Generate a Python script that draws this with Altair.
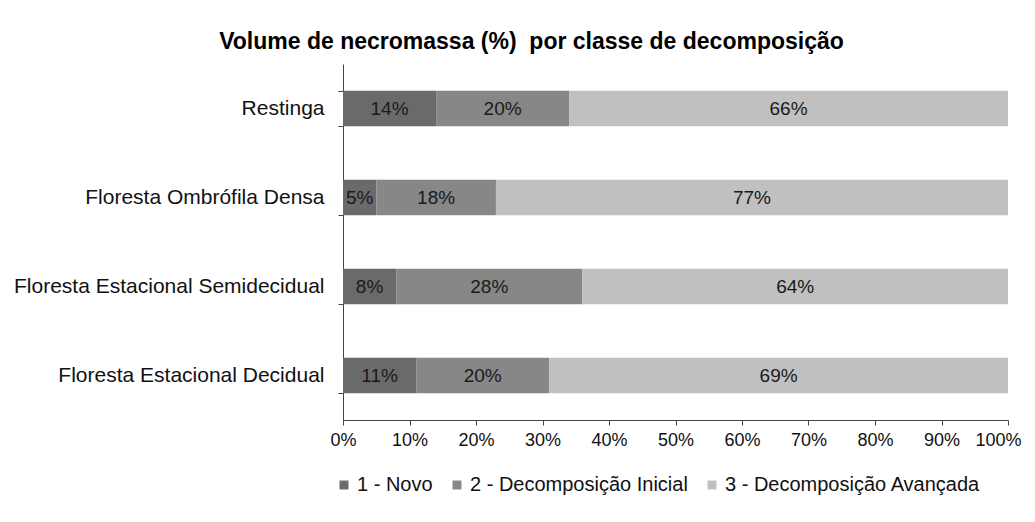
import altair as alt
import pandas as pd

categories = ["Restinga", "Floresta Ombrófila Densa",
              "Floresta Estacional Semidecidual", "Floresta Estacional Decidual"]
classes = ["1 - Novo", "2 - Decomposição Inicial", "3 - Decomposição Avançada"]
novo = [14, 5, 8, 11]
inicial = [20, 18, 28, 20]
avancada = [66, 77, 64, 69]
colors = ["#6a6a6a", "#878787", "#c0c0c0"]

rows = []
for i, c in enumerate(categories):
    for k, (cls, vals) in enumerate(zip(classes, [novo, inicial, avancada])):
        rows.append({"cat": c, "cls": cls, "ord": k, "v": vals[i]})
df = pd.DataFrame(rows)

FONT = "Liberation Sans"

base = alt.Chart(df).transform_stack(
    stack="v", as_=["v0", "v1"], groupby=["cat"],
    sort=[alt.SortField("ord", order="ascending")], offset="normalize"
).transform_calculate(
    mid="(datum.v0 + datum.v1) / 2",
    lbl="datum.v + '%'"
)

y = alt.Y("cat:N", sort=categories, title=None,
          scale=alt.Scale(paddingInner=0.6, paddingOuter=0.3),
          axis=alt.Axis(tickBand="extent", labelFontSize=21, labelColor="#111111",
                        labelFont=FONT, labelPadding=14, tickSize=5,
                        domainColor="#444444", tickColor="#444444", labelLimit=500))

bars = base.mark_bar().encode(
    x=alt.X("v0:Q", scale=alt.Scale(domain=[0, 1]), title=None,
            axis=alt.Axis(format=".0%", values=[i / 10 for i in range(11)],
                          grid=False, labelFontSize=18, labelColor="#111111",
                          labelFont=FONT, tickSize=5, labelPadding=6,
                          labelFlush=True, labelFlushOffset=13,
                          labelOverlap=False, labelBound=False,
                          domainColor="#444444", tickColor="#444444")),
    x2="v1:Q",
    y=y,
    color=alt.Color("cls:N", sort=classes,
                    scale=alt.Scale(domain=classes, range=colors),
                    legend=alt.Legend(title=None, orient="none", direction="horizontal",
                                      legendX=-9, legendY=411, symbolType="square",
                                      symbolSize=80, symbolStrokeWidth=0,
                                      labelFontSize=20, labelFont=FONT, labelLimit=400,
                                      labelColor="#111111", columnPadding=14,
                                      labelOffset=3)),
)

texts = base.mark_text(fontSize=19, font=FONT, color="#1a1a1a").encode(
    x=alt.X("mid:Q"),
    y=alt.Y("cat:N", sort=categories),
    text="lbl:N",
)

chart = alt.layer(bars, texts).properties(
    width=665, height=356,
    title=alt.TitleParams("Volume de necromassa (%)\u00a0 por classe de decomposição",
                          fontSize=23, font=FONT, fontWeight="bold", color="#000000",
                          dx=-144, dy=3, offset=2),
    autosize=alt.AutoSizeParams(type="none"),
    padding={"left": 335, "top": 56, "right": 19, "bottom": 94},
).configure_view(stroke=None)

chart.save("out.html", embed_options={"renderer": "svg", "actions": False})
